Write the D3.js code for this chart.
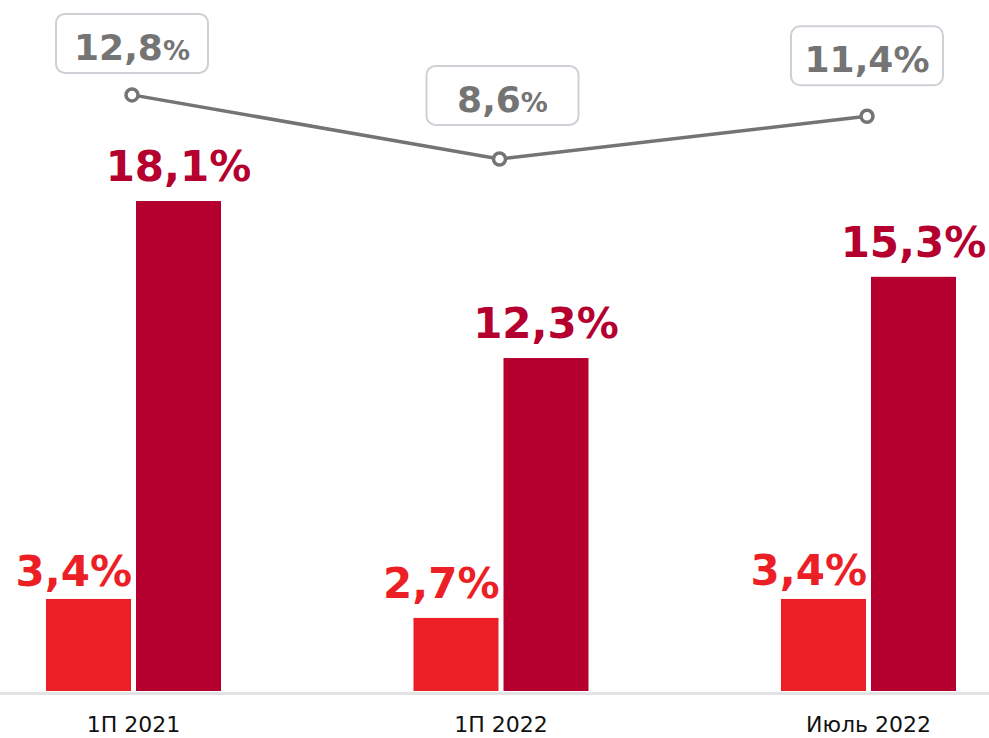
<!DOCTYPE html>
<html><head><meta charset="utf-8">
<script src="https://cdn.jsdelivr.net/npm/d3@7"></script>
<style>html,body{margin:0;padding:0;background:#fff;}svg{display:block;}</style>
</head><body>
<svg id="c" width="989" height="738"></svg>
<script>
// Data
const categories = ["1П 2021", "1П 2022", "Июль 2022"];
const seriesA = [3.4, 2.7, 3.4];      // bright red bars
const seriesB = [18.1, 12.3, 15.3];   // crimson bars
const lineValues = [12.8, 8.6, 11.4]; // grey line
const labelsA = ["3,4%", "2,7%", "3,4%"];
const labelsB = ["18,1%", "12,3%", "15,3%"];
const lineLabels = ["12,8", "8,6", "11,4"];
const smallPercent = [true, true, false];

// Layout
const W = 989, H = 738, base = 691;
const boxGap = [22, 34, 31];
const svg = d3.select("#c");
const font = "'DejaVu Sans', Verdana, sans-serif";

const x = d3.scalePoint().domain(categories).range([133.5, 868.5]);
const y = d3.scaleLinear().domain([0, 20]).range([base, base - 541.4]);
const yl = d3.scaleLinear().domain([0, 14]).range([290, 76.6]);
const barW = 85, gap = 5;

// axis line
svg.append("line").attr("x1", 0).attr("x2", W).attr("y1", base + 2.5).attr("y2", base + 2.5)
  .attr("stroke", "#e1e3e4").attr("stroke-width", 3);

// bars
svg.selectAll(".ba").data(seriesA).join("rect")
  .attr("x", (d, i) => x(categories[i]) - gap / 2 - barW)
  .attr("width", barW).attr("y", d => y(d)).attr("height", d => base - y(d))
  .attr("fill", "#ed1f26");
svg.selectAll(".bb").data(seriesB).join("rect")
  .attr("x", (d, i) => x(categories[i]) + gap / 2)
  .attr("width", barW).attr("y", d => y(d)).attr("height", d => base - y(d))
  .attr("fill", "#b5002f");

// bar labels
const labADy = [13, 20, 14];
svg.selectAll(".la").data(seriesA).join("text")
  .attr("x", (d, i) => x(categories[i]) - gap / 2 + 1)
  .attr("y", (d, i) => y(d) - labADy[i])
  .attr("text-anchor", "end").attr("font-family", font).attr("font-weight", "bold")
  .attr("font-size", 42).attr("fill", "#ed1f26").text((d, i) => labelsA[i]);
svg.selectAll(".lb").data(seriesB).join("text")
  .attr("x", (d, i) => x(categories[i]) + gap / 2 + barW / 2)
  .attr("y", d => y(d) - 20)
  .attr("text-anchor", "middle").attr("font-family", font).attr("font-weight", "bold")
  .attr("font-size", 42).attr("fill", "#b5002f").text((d, i) => labelsB[i]);

// line
const pts = lineValues.map((v, i) => [x(categories[i]) - 1.5, yl(v)]);
svg.append("path").attr("d", d3.line()(pts)).attr("fill", "none")
  .attr("stroke", "#747474").attr("stroke-width", 3.5);
svg.selectAll(".pt").data(pts).join("circle")
  .attr("cx", d => d[0]).attr("cy", d => d[1]).attr("r", 6)
  .attr("fill", "#fff").attr("stroke", "#747474").attr("stroke-width", 3.5);

// label boxes
const bw = 152, bh = 59;
pts.forEach((p, i) => {
  const cx = p[0] + (i === 1 ? 3 : 0);
  const bottom = p[1] - boxGap[i];
  svg.append("rect").attr("x", cx - bw / 2).attr("y", bottom - bh).attr("width", bw).attr("height", bh)
    .attr("rx", 9).attr("fill", "#fff").attr("stroke", "#cdd1d5").attr("stroke-width", 2);
  const t = svg.append("text").attr("x", cx).attr("y", bottom - 13)
    .attr("text-anchor", "middle").attr("font-family", font).attr("font-weight", "bold")
    .attr("fill", "#747474").attr("font-size", 36);
  t.append("tspan").text(lineLabels[i]);
  t.append("tspan").attr("font-size", smallPercent[i] ? 27 : 36).text("%");
});

// category labels
svg.selectAll(".cl").data(categories).join("text")
  .attr("x", d => x(d)).attr("y", 732).attr("text-anchor", "middle")
  .attr("font-family", font).attr("font-size", 22).attr("fill", "#111").text(d => d);
</script>
</body></html>
